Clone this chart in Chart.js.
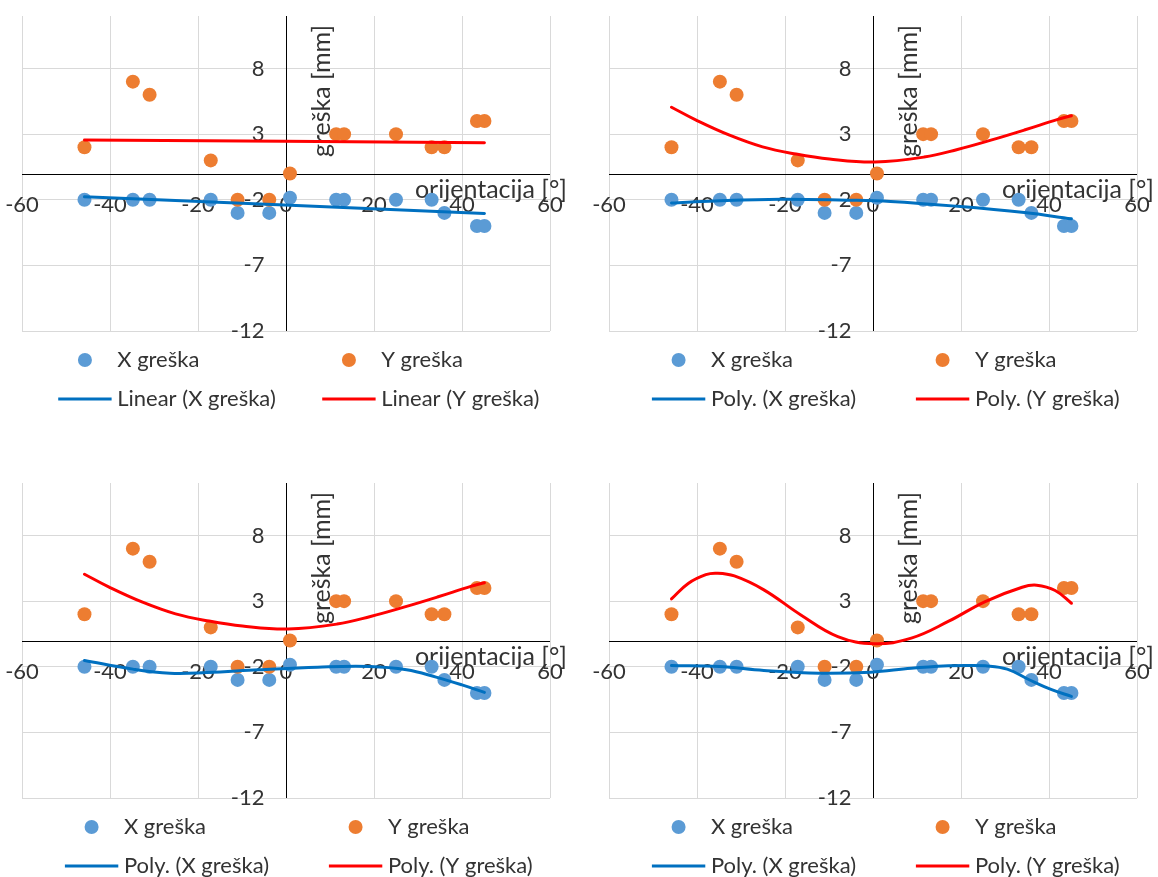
<!DOCTYPE html>
<html>
<head>
<meta charset="utf-8">
<script src="https://cdn.jsdelivr.net/npm/chart.js@4.4.1/dist/chart.umd.min.js"></script>
<style>
html, body { margin: 0; padding: 0; background: #fff; overflow: hidden; }
#wrap { position: relative; width: 1158px; height: 877px; background: #fff; }
canvas { position: absolute; }
</style>
</head>
<body>
<div id="wrap">
  <canvas id="c1" width="571" height="415" style="left:0px;top:0px"></canvas>
  <canvas id="c2" width="571" height="415" style="left:587px;top:0px"></canvas>
  <canvas id="c3" width="571" height="415" style="left:0px;top:467px"></canvas>
  <canvas id="c4" width="571" height="415" style="left:587px;top:467px"></canvas>
</div>
<script>
// ---- measured data (orientation in degrees, errors in mm) ----
const orientation = [-45.8, -34.8, -31.0, -17.1, -11.0, -3.8, 0.9, 11.4, 13.2, 25.0, 33.1, 36.0, 43.4, 45.1];
const xError      = [-2, -2, -2, -2, -3, -3, -1.85, -2, -2, -2, -2, -3, -4, -4];
const yError      = [2, 7, 6, 1, -2, -2, 0, 3, 3, 3, 2, 2, 4, 4];

const seriesNames = ['X greška', 'Y greška'];
const xTicks = [-60, -40, -20, 0, 20, 40, 60];
const yTicks = [-12, -7, -2, 3, 8];
const xAxisTitle = 'orijentacija [°]';
const yAxisTitle = 'greška [mm]';

// ---- trendlines ----
// chart 1: linear
const linXAngle = [-45.8, 45.1];
const linXValue = [-1.77, -3.04];
const linYAngle = [-45.8, 45.1];
const linYValue = [2.55, 2.35];
// chart 2: polynomial
const poly2XAngle = [-45.8, -36.0, -21.0, -6.0, 4.0, 19.2, 34.4, 45.1];
const poly2XValue = [-2.25, -2.09, -1.96, -2.03, -2.13, -2.50, -2.98, -3.45];
const poly2YAngle = [-45.8, -40.2, -32.6, -25.1, -17.5, -9.9, 0.5, 11.6, 19.2, 26.8, 34.4, 42.0, 45.1];
const poly2YValue = [5.05, 4.07, 2.92, 2.03, 1.48, 1.10, 0.88, 1.25, 1.83, 2.54, 3.31, 4.12, 4.40];
// chart 3: polynomial
const poly3XAngle = [-45.8, -34.8, -26.4, -18.0, -6.2, 7.2, 19.0, 27.4, 34.1, 40.0, 45.1];
const poly3XValue = [-1.52, -2.18, -2.49, -2.44, -2.23, -2.03, -1.98, -2.23, -2.79, -3.38, -3.95];
const poly3YAngle = [-45.8, -40.2, -32.6, -25.1, -17.5, -9.9, 0.5, 11.6, 19.2, 26.8, 34.4, 42.0, 45.1];
const poly3YValue = [5.05, 4.07, 2.92, 2.03, 1.48, 1.10, 0.88, 1.25, 1.83, 2.54, 3.31, 4.12, 4.40];
// chart 4: polynomial
const poly4XAngle = [-45.8, -34.9, -24.8, -12.2, -0.5, 8.7, 17.1, 21.0, 25.5, 30.5, 35.5, 40.6, 45.1];
const poly4XValue = [-1.90, -1.98, -2.28, -2.49, -2.41, -2.11, -1.93, -1.90, -1.93, -2.18, -2.99, -3.75, -4.26];
const poly4YAngle = [-45.8, -42.0, -38.0, -35.5, -31.5, -24.8, -16.4, -8.0, 0.3, 8.7, 17.1, 25.5, 33.9, 37.2, 41.4, 45.1];
const poly4YValue = [3.17, 4.35, 5.02, 5.13, 4.92, 3.86, 1.95, 0.30, -0.25, 0.18, 1.45, 2.97, 4.06, 4.21, 3.81, 2.84];

// ---- styling ----
const COL_X = '#5B9BD5', COL_Y = '#ED7D31', COL_TX = '#0070C0', COL_TY = '#FF0000';
const TEXT = '#333333';
const FONT = 'Lato, "Liberation Sans", sans-serif';
const TICK_PX = 22, TITLE_PX = 25, LEGEND_PX = 22;

const excelDecor = {
  id: 'excelDecor',
  beforeDatasetsDraw(chart) {
    const { ctx, chartArea: ca, scales: { x, y } } = chart;
    const x0 = Math.round(x.getPixelForValue(0)) + 0.5;
    const y0 = Math.round(y.getPixelForValue(0)) + 0.5;
    ctx.save();
    ctx.strokeStyle = '#000';
    ctx.lineWidth = 1;
    ctx.beginPath();
    ctx.moveTo(x0, ca.top); ctx.lineTo(x0, ca.bottom);
    ctx.moveTo(ca.left, y0); ctx.lineTo(ca.right, y0);
    ctx.stroke();

    ctx.fillStyle = TEXT;
    ctx.font = `${TICK_PX}px ${FONT}`;
    ctx.textBaseline = 'middle';
    ctx.textAlign = 'center';
    x.ticks.forEach(t => ctx.fillText(String(t.value), x.getPixelForValue(t.value), y0 + 30));
    ctx.textAlign = 'right';
    y.ticks.forEach(t => ctx.fillText(String(t.value), x0 - 22, y.getPixelForValue(t.value)));

    ctx.font = `${TITLE_PX}px ${FONT}`;
    ctx.textAlign = 'right';
    ctx.fillText(xAxisTitle, ca.right + 17, y0 + 15.5);
    ctx.save();
    ctx.translate(x0 + 35.5, ca.top + 75);
    ctx.rotate(-Math.PI / 2);
    ctx.textAlign = 'center';
    ctx.fillText(yAxisTitle, 0, 0);
    ctx.restore();
    ctx.restore();
  },
  afterDraw(chart) {
    const { ctx, chartArea: ca } = chart;
    const ds = chart.data.datasets;
    ctx.save();
    ctx.font = `${LEGEND_PX}px ${FONT}`;
    const symW = 53.4, gap = 5.6;
    const maxText = Math.max(...ds.map(d => ctx.measureText(d.label).width));
    const entryW = symW + gap + maxText;
    const centers = [299 - 132, 299 + 132];
    const rows = [ca.bottom + 29, ca.bottom + 68];
    ds.forEach((d, i) => {
      const col = i % 2, row = Math.floor(i / 2);
      const left = centers[col] - entryW / 2;
      const cy = rows[row];
      if (d.type === 'line') {
        ctx.strokeStyle = d.borderColor;
        ctx.lineWidth = d.borderWidth;
        ctx.beginPath();
        ctx.moveTo(left, cy); ctx.lineTo(left + symW, cy);
        ctx.stroke();
      } else {
        ctx.fillStyle = d.backgroundColor;
        ctx.beginPath();
        ctx.arc(left + symW / 2, cy, d.pointRadius, 0, Math.PI * 2);
        ctx.fill();
      }
      ctx.fillStyle = TEXT;
      ctx.textAlign = 'left';
      ctx.textBaseline = 'middle';
      ctx.fillText(d.label, left + symW + gap, cy);
    });
    ctx.restore();
  }
};

const toPts = (xs, ys) => xs.map((v, i) => ({ x: v, y: ys[i] }));

function makeChart(id, prefix, tXa, tXv, tYa, tYv) {
  return new Chart(document.getElementById(id), {
    type: 'scatter',
    data: {
      datasets: [
        { label: seriesNames[0], data: toPts(orientation, xError), backgroundColor: COL_X, borderColor: COL_X,
          pointRadius: 7, pointBorderWidth: 0, order: 4 },
        { label: seriesNames[1], data: toPts(orientation, yError), backgroundColor: COL_Y, borderColor: COL_Y,
          pointRadius: 7, pointBorderWidth: 0, order: 3 },
        { type: 'line', label: `${prefix} (${seriesNames[0]})`, data: toPts(tXa, tXv), borderColor: COL_TX,
          borderWidth: 3, pointRadius: 0, fill: false, tension: 0.4, borderCapStyle: 'round', order: 2 },
        { type: 'line', label: `${prefix} (${seriesNames[1]})`, data: toPts(tYa, tYv), borderColor: COL_TY,
          borderWidth: 3, pointRadius: 0, fill: false, tension: 0.4, borderCapStyle: 'round', order: 1 }
      ]
    },
    options: {
      responsive: false,
      animation: false,
      events: [],
      layout: { padding: { left: 22, right: 21, top: 16, bottom: 84 } },
      plugins: { legend: { display: false }, tooltip: { enabled: false } },
      scales: {
        x: {
          type: 'linear', min: -60, max: 60,
          afterBuildTicks: s => { s.ticks = xTicks.map(v => ({ value: v })); },
          ticks: { display: false },
          grid: { color: '#D9D9D9', lineWidth: 1, drawTicks: false },
          border: { display: false }
        },
        y: {
          type: 'linear', min: -12, max: 12,
          afterBuildTicks: s => { s.ticks = yTicks.map(v => ({ value: v })); },
          ticks: { display: false },
          grid: { color: '#D9D9D9', lineWidth: 1, drawTicks: false },
          border: { display: false }
        }
      }
    },
    plugins: [excelDecor]
  });
}

makeChart('c1', 'Linear', linXAngle, linXValue, linYAngle, linYValue);
makeChart('c2', 'Poly.', poly2XAngle, poly2XValue, poly2YAngle, poly2YValue);
makeChart('c3', 'Poly.', poly3XAngle, poly3XValue, poly3YAngle, poly3YValue);
makeChart('c4', 'Poly.', poly4XAngle, poly4XValue, poly4YAngle, poly4YValue);
</script>
</body>
</html>
